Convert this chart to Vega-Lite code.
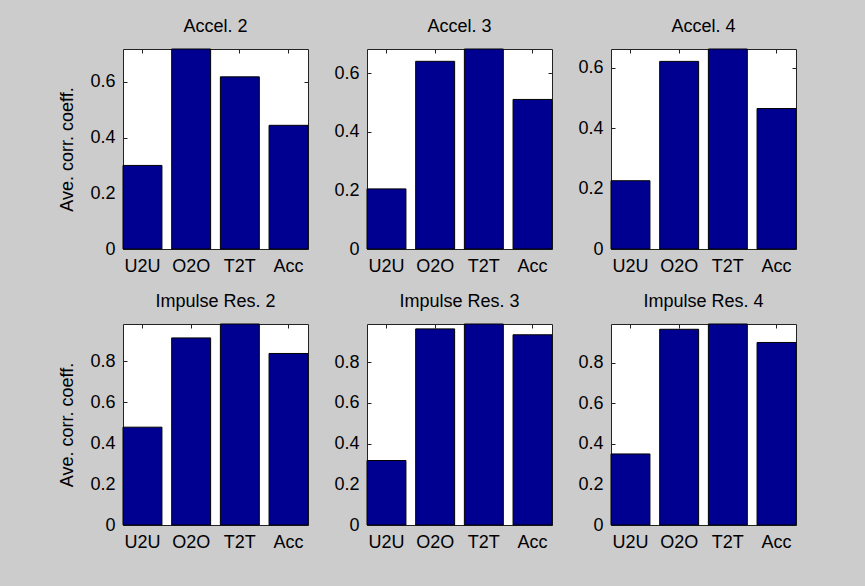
{
  "$schema": "https://vega.github.io/schema/vega-lite/v6.json",
  "autosize": {"type": "pad"},
  "padding": {"left": 58, "top": 17, "right": 72, "bottom": 40},
  "background": "#cccccc",
  "data": {
    "values": [
      {"panel": "Accel. 2", "cat": "U2U", "value": 0.300},
      {"panel": "Accel. 2", "cat": "O2O", "value": 0.718},
      {"panel": "Accel. 2", "cat": "T2T", "value": 0.618},
      {"panel": "Accel. 2", "cat": "Acc", "value": 0.444},
      {"panel": "Accel. 3", "cat": "U2U", "value": 0.205},
      {"panel": "Accel. 3", "cat": "O2O", "value": 0.640},
      {"panel": "Accel. 3", "cat": "T2T", "value": 0.682},
      {"panel": "Accel. 3", "cat": "Acc", "value": 0.510},
      {"panel": "Accel. 4", "cat": "U2U", "value": 0.226},
      {"panel": "Accel. 4", "cat": "O2O", "value": 0.621},
      {"panel": "Accel. 4", "cat": "T2T", "value": 0.662},
      {"panel": "Accel. 4", "cat": "Acc", "value": 0.465},
      {"panel": "Impulse Res. 2", "cat": "U2U", "value": 0.478},
      {"panel": "Impulse Res. 2", "cat": "O2O", "value": 0.914},
      {"panel": "Impulse Res. 2", "cat": "T2T", "value": 0.982},
      {"panel": "Impulse Res. 2", "cat": "Acc", "value": 0.838},
      {"panel": "Impulse Res. 3", "cat": "U2U", "value": 0.317},
      {"panel": "Impulse Res. 3", "cat": "O2O", "value": 0.964},
      {"panel": "Impulse Res. 3", "cat": "T2T", "value": 0.988},
      {"panel": "Impulse Res. 3", "cat": "Acc", "value": 0.935},
      {"panel": "Impulse Res. 4", "cat": "U2U", "value": 0.350},
      {"panel": "Impulse Res. 4", "cat": "O2O", "value": 0.964},
      {"panel": "Impulse Res. 4", "cat": "T2T", "value": 0.990},
      {"panel": "Impulse Res. 4", "cat": "Acc", "value": 0.899}
    ]
  },
  "columns": 3,
  "spacing": {"row": 75, "column": 59},
  "bounds": "flush",
  "concat": [
    {
      "title": "Accel. 2",
      "width": 185, "height": 200,
      "transform": [{"filter": "datum.panel === 'Accel. 2'"}],
      "resolve": {"axis": {"x": "independent", "y": "independent"}},
      "layer": [
        {"mark": {"type": "bar", "fill": "#000090", "stroke": "#000000", "strokeWidth": 1},
         "encoding": {
           "x": {"field": "cat", "type": "nominal", "sort": ["U2U", "O2O", "T2T", "Acc"], "scale": {"paddingInner": 0.2, "paddingOuter": 0}, "axis": {"title": null}},
           "y": {"field": "value", "type": "quantitative", "scale": {"nice": false, "zero": true}, "axis": {"title": "Ave. corr. coeff."}}}},
        {"mark": {"type": "bar", "opacity": 0},
         "encoding": {
           "x": {"field": "cat", "type": "nominal", "sort": ["U2U", "O2O", "T2T", "Acc"], "axis": {"orient": "top", "labels": false, "title": null}},
           "y": {"field": "value", "type": "quantitative", "axis": {"orient": "right", "labels": false, "title": null}}}}
      ]
    },
    {
      "title": "Accel. 3",
      "width": 185, "height": 200,
      "transform": [{"filter": "datum.panel === 'Accel. 3'"}],
      "resolve": {"axis": {"x": "independent", "y": "independent"}},
      "layer": [
        {"mark": {"type": "bar", "fill": "#000090", "stroke": "#000000", "strokeWidth": 1},
         "encoding": {
           "x": {"field": "cat", "type": "nominal", "sort": ["U2U", "O2O", "T2T", "Acc"], "scale": {"paddingInner": 0.2, "paddingOuter": 0}, "axis": {"title": null}},
           "y": {"field": "value", "type": "quantitative", "scale": {"nice": false, "zero": true}, "axis": {"title": null}}}},
        {"mark": {"type": "bar", "opacity": 0},
         "encoding": {
           "x": {"field": "cat", "type": "nominal", "sort": ["U2U", "O2O", "T2T", "Acc"], "axis": {"orient": "top", "labels": false, "title": null}},
           "y": {"field": "value", "type": "quantitative", "axis": {"orient": "right", "labels": false, "title": null}}}}
      ]
    },
    {
      "title": "Accel. 4",
      "width": 185, "height": 200,
      "transform": [{"filter": "datum.panel === 'Accel. 4'"}],
      "resolve": {"axis": {"x": "independent", "y": "independent"}},
      "layer": [
        {"mark": {"type": "bar", "fill": "#000090", "stroke": "#000000", "strokeWidth": 1},
         "encoding": {
           "x": {"field": "cat", "type": "nominal", "sort": ["U2U", "O2O", "T2T", "Acc"], "scale": {"paddingInner": 0.2, "paddingOuter": 0}, "axis": {"title": null}},
           "y": {"field": "value", "type": "quantitative", "scale": {"nice": false, "zero": true}, "axis": {"title": null}}}},
        {"mark": {"type": "bar", "opacity": 0},
         "encoding": {
           "x": {"field": "cat", "type": "nominal", "sort": ["U2U", "O2O", "T2T", "Acc"], "axis": {"orient": "top", "labels": false, "title": null}},
           "y": {"field": "value", "type": "quantitative", "axis": {"orient": "right", "labels": false, "title": null}}}}
      ]
    },
    {
      "title": "Impulse Res. 2",
      "width": 185, "height": 201,
      "transform": [{"filter": "datum.panel === 'Impulse Res. 2'"}],
      "resolve": {"axis": {"x": "independent", "y": "independent"}},
      "layer": [
        {"mark": {"type": "bar", "fill": "#000090", "stroke": "#000000", "strokeWidth": 1},
         "encoding": {
           "x": {"field": "cat", "type": "nominal", "sort": ["U2U", "O2O", "T2T", "Acc"], "scale": {"paddingInner": 0.2, "paddingOuter": 0}, "axis": {"title": null}},
           "y": {"field": "value", "type": "quantitative", "scale": {"nice": false, "zero": true}, "axis": {"title": "Ave. corr. coeff."}}}},
        {"mark": {"type": "bar", "opacity": 0},
         "encoding": {
           "x": {"field": "cat", "type": "nominal", "sort": ["U2U", "O2O", "T2T", "Acc"], "axis": {"orient": "top", "labels": false, "title": null}},
           "y": {"field": "value", "type": "quantitative", "axis": {"orient": "right", "labels": false, "title": null}}}}
      ]
    },
    {
      "title": "Impulse Res. 3",
      "width": 185, "height": 201,
      "transform": [{"filter": "datum.panel === 'Impulse Res. 3'"}],
      "resolve": {"axis": {"x": "independent", "y": "independent"}},
      "layer": [
        {"mark": {"type": "bar", "fill": "#000090", "stroke": "#000000", "strokeWidth": 1},
         "encoding": {
           "x": {"field": "cat", "type": "nominal", "sort": ["U2U", "O2O", "T2T", "Acc"], "scale": {"paddingInner": 0.2, "paddingOuter": 0}, "axis": {"title": null}},
           "y": {"field": "value", "type": "quantitative", "scale": {"nice": false, "zero": true}, "axis": {"title": null}}}},
        {"mark": {"type": "bar", "opacity": 0},
         "encoding": {
           "x": {"field": "cat", "type": "nominal", "sort": ["U2U", "O2O", "T2T", "Acc"], "axis": {"orient": "top", "labels": false, "title": null}},
           "y": {"field": "value", "type": "quantitative", "axis": {"orient": "right", "labels": false, "title": null}}}}
      ]
    },
    {
      "title": "Impulse Res. 4",
      "width": 185, "height": 201,
      "transform": [{"filter": "datum.panel === 'Impulse Res. 4'"}],
      "resolve": {"axis": {"x": "independent", "y": "independent"}},
      "layer": [
        {"mark": {"type": "bar", "fill": "#000090", "stroke": "#000000", "strokeWidth": 1},
         "encoding": {
           "x": {"field": "cat", "type": "nominal", "sort": ["U2U", "O2O", "T2T", "Acc"], "scale": {"paddingInner": 0.2, "paddingOuter": 0}, "axis": {"title": null}},
           "y": {"field": "value", "type": "quantitative", "scale": {"nice": false, "zero": true}, "axis": {"title": null}}}},
        {"mark": {"type": "bar", "opacity": 0},
         "encoding": {
           "x": {"field": "cat", "type": "nominal", "sort": ["U2U", "O2O", "T2T", "Acc"], "axis": {"orient": "top", "labels": false, "title": null}},
           "y": {"field": "value", "type": "quantitative", "axis": {"orient": "right", "labels": false, "title": null}}}}
      ]
    }
  ],
  "config": {
    "font": "Liberation Sans",
    "view": {"fill": "#ffffff", "stroke": "#222222", "strokeWidth": 1},
    "axis": {
      "domain": false,
      "grid": false,
      "tickColor": "#222222",
      "tickSize": -4,
      "labelFont": "Liberation Sans",
      "labelFontSize": 18,
      "labelColor": "#000000",
      "titleFont": "Liberation Sans",
      "titleFontSize": 18,
      "titleFontWeight": "normal",
      "titleColor": "#000000"
    },
    "axisX": {"labelAngle": 0, "labelPadding": 12},
    "axisY": {"labelPadding": 12, "tickCount": 4, "tickMinStep": 0.2, "format": ".1~f", "titlePadding": 13},
    "title": {"font": "Liberation Sans", "fontSize": 18, "fontWeight": "normal", "color": "#000000", "anchor": "middle", "baseline": "alphabetic", "offset": 13}
  }
}
